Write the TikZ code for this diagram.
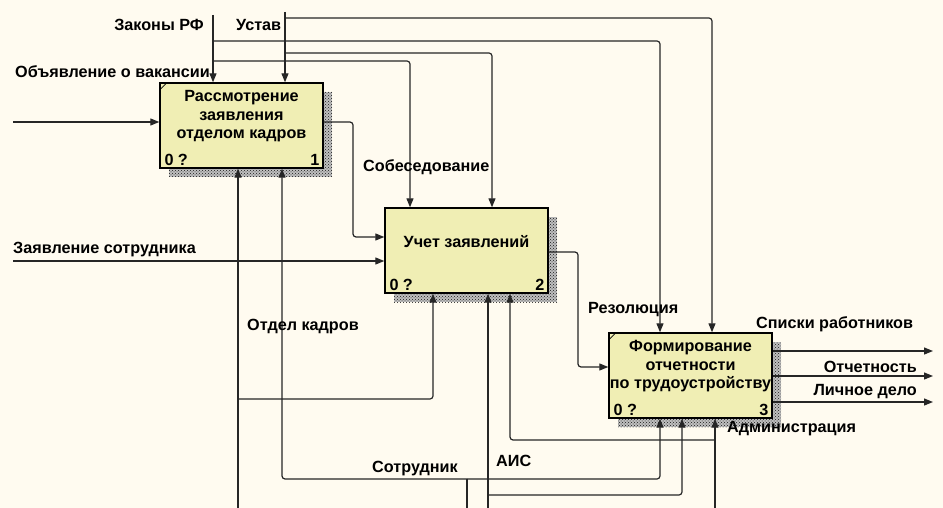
\documentclass[tikz,border=0pt]{standalone}
\usepackage{fontspec}
\setmainfont{Liberation Sans}
\usetikzlibrary{arrows.meta,patterns}
\definecolor{bgc}{RGB}{255,251,240}
\definecolor{boxc}{RGB}{240,238,180}
\begin{document}
\begin{tikzpicture}[x=1pt,y=-1pt,
    every node/.style={font=\bfseries\fontsize{16.2}{18.5}\selectfont,inner sep=0pt},
    box/.style={draw,line width=1.4pt,fill=boxc,minimum width=163pt,minimum height=85pt},
    shad/.style={pattern=crosshatch dots,pattern color=black!90},
    arr/.style={line width=1.2pt,black!85,-{Triangle[length=9pt,width=7pt]},rounded corners=3pt},
    ln/.style={line width=1.2pt,black!85,rounded corners=3pt}]
  \fill[bgc] (0,0) rectangle (943,508);
  \useasboundingbox (0,0) rectangle (943,508);
  % shadows, then boxes
  \foreach \cx/\cy in {241.5/125.5,466.5/250.5,690.5/375.5}{
    \fill[black!25] (\cx-72.5,\cy-33.5) rectangle (\cx+90.5,\cy+51.5);
    \fill[shad] (\cx-72.5,\cy-33.5) rectangle (\cx+90.5,\cy+51.5);}
  \node[box] (b1) at (241.5,125.5) {};
  \node[box] (b2) at (466.5,250.5) {};
  \node[box] (b3) at (690.5,375.5) {};
  \node[align=center] (t1) at ([yshift=9pt]b1.center) {Рассмотрение\\заявления\\отделом кадров};
  \node[align=center] (t2) at ([yshift=9pt]b2.center) {Учет заявлений};
  \node[align=center] (t3) at ([yshift=9pt]b3.center) {Формирование\\отчетности\\по трудоустройству};
  \node[anchor=south west] (z1) at ([shift={(5pt,3pt)}]b1.south west) {0 ?};
  \node[anchor=south east] (n1) at ([shift={(-4pt,3pt)}]b1.south east) {1};
  \node[anchor=south west] (z2) at ([shift={(5pt,3pt)}]b2.south west) {0 ?};
  \node[anchor=south east] (n2) at ([shift={(-4pt,3pt)}]b2.south east) {2};
  \node[anchor=south west] (z3) at ([shift={(5pt,3pt)}]b3.south west) {0 ?};
  \node[anchor=south east] (n3) at ([shift={(-4pt,3pt)}]b3.south east) {3};
  \draw[line width=0.7pt] ([yshift=-8pt]b1.north west) -- ([xshift=8pt]b1.north west);
  \draw[line width=0.7pt] ([yshift=-8pt]b3.north west) -- ([xshift=8pt]b3.north west);
  % free ends
  \coordinate (zak) at (213,15);\coordinate (ust) at (285,12);
  \coordinate (vak) at (13,122);\coordinate (zay) at (13,261);
  \coordinate (otd) at (238,508);\coordinate (sot) at (467,508);
  \coordinate (ais) at (488,508);\coordinate (adm) at (715,508);
  \coordinate (o1) at (933,351);\coordinate (o2) at (933,376);\coordinate (o3) at (933,402);
  % controls
  \draw[arr] (zak) -- ([xshift=-28.5pt]b1.north);
  \draw[arr] (ust) -- ([xshift=43.5pt]b1.north);
  \draw[arr] (213,41) -| ([xshift=-30.5pt]b3.north);
  \draw[arr] (213,61) -| ([xshift=-56.5pt]b2.north);
  \draw[arr] (285,18) -| ([xshift=21.5pt]b3.north);
  \draw[arr] (285,53) -| ([xshift=25.5pt]b2.north);
  % inputs and outputs
  \draw[arr] (vak) -- (vak -| b1.west);
  \draw[arr] (zay) -- (zay -| b2.west);
  \draw[arr] ([yshift=3.5pt]b1.east) -| (353,237) -- ([yshift=13.5pt]b2.west);
  \draw[arr] ([yshift=-1.5pt]b2.east) -| (578,367) -- ([yshift=8.5pt]b3.west);
  \draw[arr] (b3.east |- o1) -- (o1);
  \draw[arr] (b3.east |- o2) -- (o2);
  \draw[arr] (b3.east |- o3) -- (o3);
  % mechanisms
  \draw[arr] (otd) -- ([xshift=-3.5pt]b1.south);
  \draw[arr] (238,399) -| ([xshift=-33.5pt]b2.south);
  \draw[ln] (sot) -- (467,479);
  \draw[arr] (467,479) -| ([xshift=40.5pt]b1.south);
  \draw[arr] (467,479) -| ([xshift=-30.5pt]b3.south);
  \draw[arr] (ais) -- ([xshift=21.5pt]b2.south);
  \draw[arr] (488,495) -| ([xshift=-8.5pt]b3.south);
  \draw[arr] (adm) -- ([xshift=24.5pt]b3.south);
  \draw[arr] (715,440) -| ([xshift=43.5pt]b2.south);
  % labels
  \node[anchor=east] (lzak) at (204,25) {Законы РФ};
  \node[anchor=west] (lust) at (236,25) {Устав};
  \node[anchor=west] (lvak) at (15,72) {Объявление о вакансии};
  \node[anchor=west] (lzay) at (13,250) {Заявление сотрудника};
  \node[anchor=west] (lsob) at (363,167) {Собеседование};
  \node[anchor=west] (lotd) at (247,327) {Отдел кадров};
  \node[anchor=west] (lrez) at (588,310) {Резолюция};
  \node[anchor=west] (lsot) at (372,469) {Сотрудник};
  \node[anchor=west] (lais) at (496,461) {АИС};
  \node[anchor=west] (ladm) at (727,429) {Администрация};
  \node[anchor=west] (lspi) at (756,324) {Списки работников};
  \node[anchor=east] (lotc) at (917,367) {Отчетность};
  \node[anchor=east] (llic) at (917,392) {Личное дело};
\end{tikzpicture}
\end{document}
